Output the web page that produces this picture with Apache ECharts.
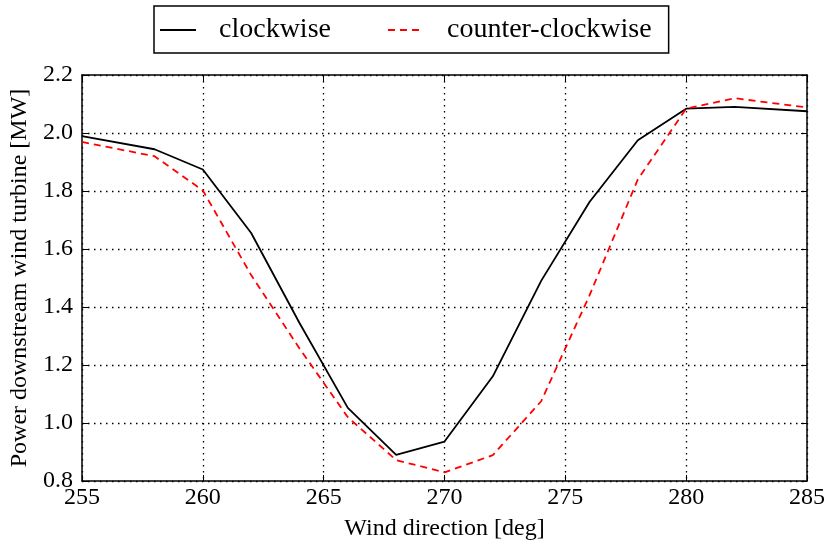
<!DOCTYPE html>
<html>
<head>
<meta charset="utf-8">
<script src="https://cdn.jsdelivr.net/npm/echarts@6/dist/echarts.min.js"></script>
<style>
  html, body { margin: 0; padding: 0; background: #fff; }
  #chart { width: 828px; height: 547px; }
</style>
</head>
<body>
<div id="chart"></div>
<script>
var directions = [255, 258, 260, 262, 264, 266, 268, 270, 272, 274, 276, 278, 280, 282, 285];
var clockwise = [1.989, 1.944, 1.874, 1.655, 1.345, 1.052, 0.89, 0.936, 1.161, 1.49, 1.762, 1.975, 2.084, 2.09, 2.075];
var counterClockwise = [1.969, 1.92, 1.802, 1.51, 1.257, 1.02, 0.872, 0.83, 0.889, 1.075, 1.44, 1.84, 2.084, 2.12, 2.088];

function pairs(xs, ys) {
  return xs.map(function (x, i) { return [x, ys[i]]; });
}

var font = 'Liberation Serif';
var chart = echarts.init(document.getElementById('chart'));

var tickStyle = { show: true, inside: true, length: 6, lineStyle: { color: '#000', width: 1 } };
var lineAxis = { show: true, lineStyle: { color: '#000', width: 1.5 } };
var dotted = { show: true, lineStyle: { color: '#000', type: [1.5, 4.5], width: 1.3 } };

chart.setOption({
  animation: false,
  grid: { left: 82, right: 20, top: 75, bottom: 66 },
  legend: {
    left: 154, top: 6,
    padding: [10, 17, 9, 5],
    borderColor: '#000', borderWidth: 1.5,
    itemWidth: 36, itemHeight: 14, itemGap: 56,
    itemStyle: { opacity: 0 },
    textStyle: { fontFamily: font, fontSize: 28, color: '#000', padding: [0, 0, 0, 18] },
    data: ['clockwise', 'counter-clockwise']
  },
  xAxis: [{
    type: 'value', min: 255, max: 285, interval: 5,
    name: 'Wind direction [deg]', nameLocation: 'middle', nameGap: 36,
    nameTextStyle: { fontFamily: font, fontSize: 24, color: '#000' },
    axisLine: lineAxis, axisTick: tickStyle, splitLine: dotted,
    axisLabel: { fontFamily: font, fontSize: 24, color: '#000', margin: 5 }
  }, {
    type: 'value', position: 'top', min: 255, max: 285, interval: 5,
    axisLine: lineAxis, axisTick: tickStyle, splitLine: { show: false },
    axisLabel: { show: false }
  }],
  yAxis: [{
    type: 'value', min: 0.8, max: 2.2, interval: 0.2,
    name: 'Power downstream wind turbine [MW]', nameLocation: 'middle', nameGap: 50,
    nameTextStyle: { fontFamily: font, fontSize: 24, color: '#000' },
    axisLine: lineAxis, axisTick: tickStyle, splitLine: dotted,
    axisLabel: { fontFamily: font, fontSize: 24, color: '#000', margin: 9,
      formatter: function (v) { return v.toFixed(1); } }
  }, {
    type: 'value', position: 'right', min: 0.8, max: 2.2, interval: 0.2,
    axisLine: lineAxis, axisTick: tickStyle, splitLine: { show: false },
    axisLabel: { show: false }
  }],
  series: [{
    name: 'clockwise', type: 'line', symbol: 'none',
    data: pairs(directions, clockwise),
    lineStyle: { color: '#000', width: 1.8 },
    itemStyle: { color: '#000' }
  }, {
    name: 'counter-clockwise', type: 'line', symbol: 'none',
    data: pairs(directions, counterClockwise),
    lineStyle: { color: '#ff0000', width: 1.8, type: [7, 5] },
    itemStyle: { color: '#ff0000' }
  }]
});
</script>
</body>
</html>
